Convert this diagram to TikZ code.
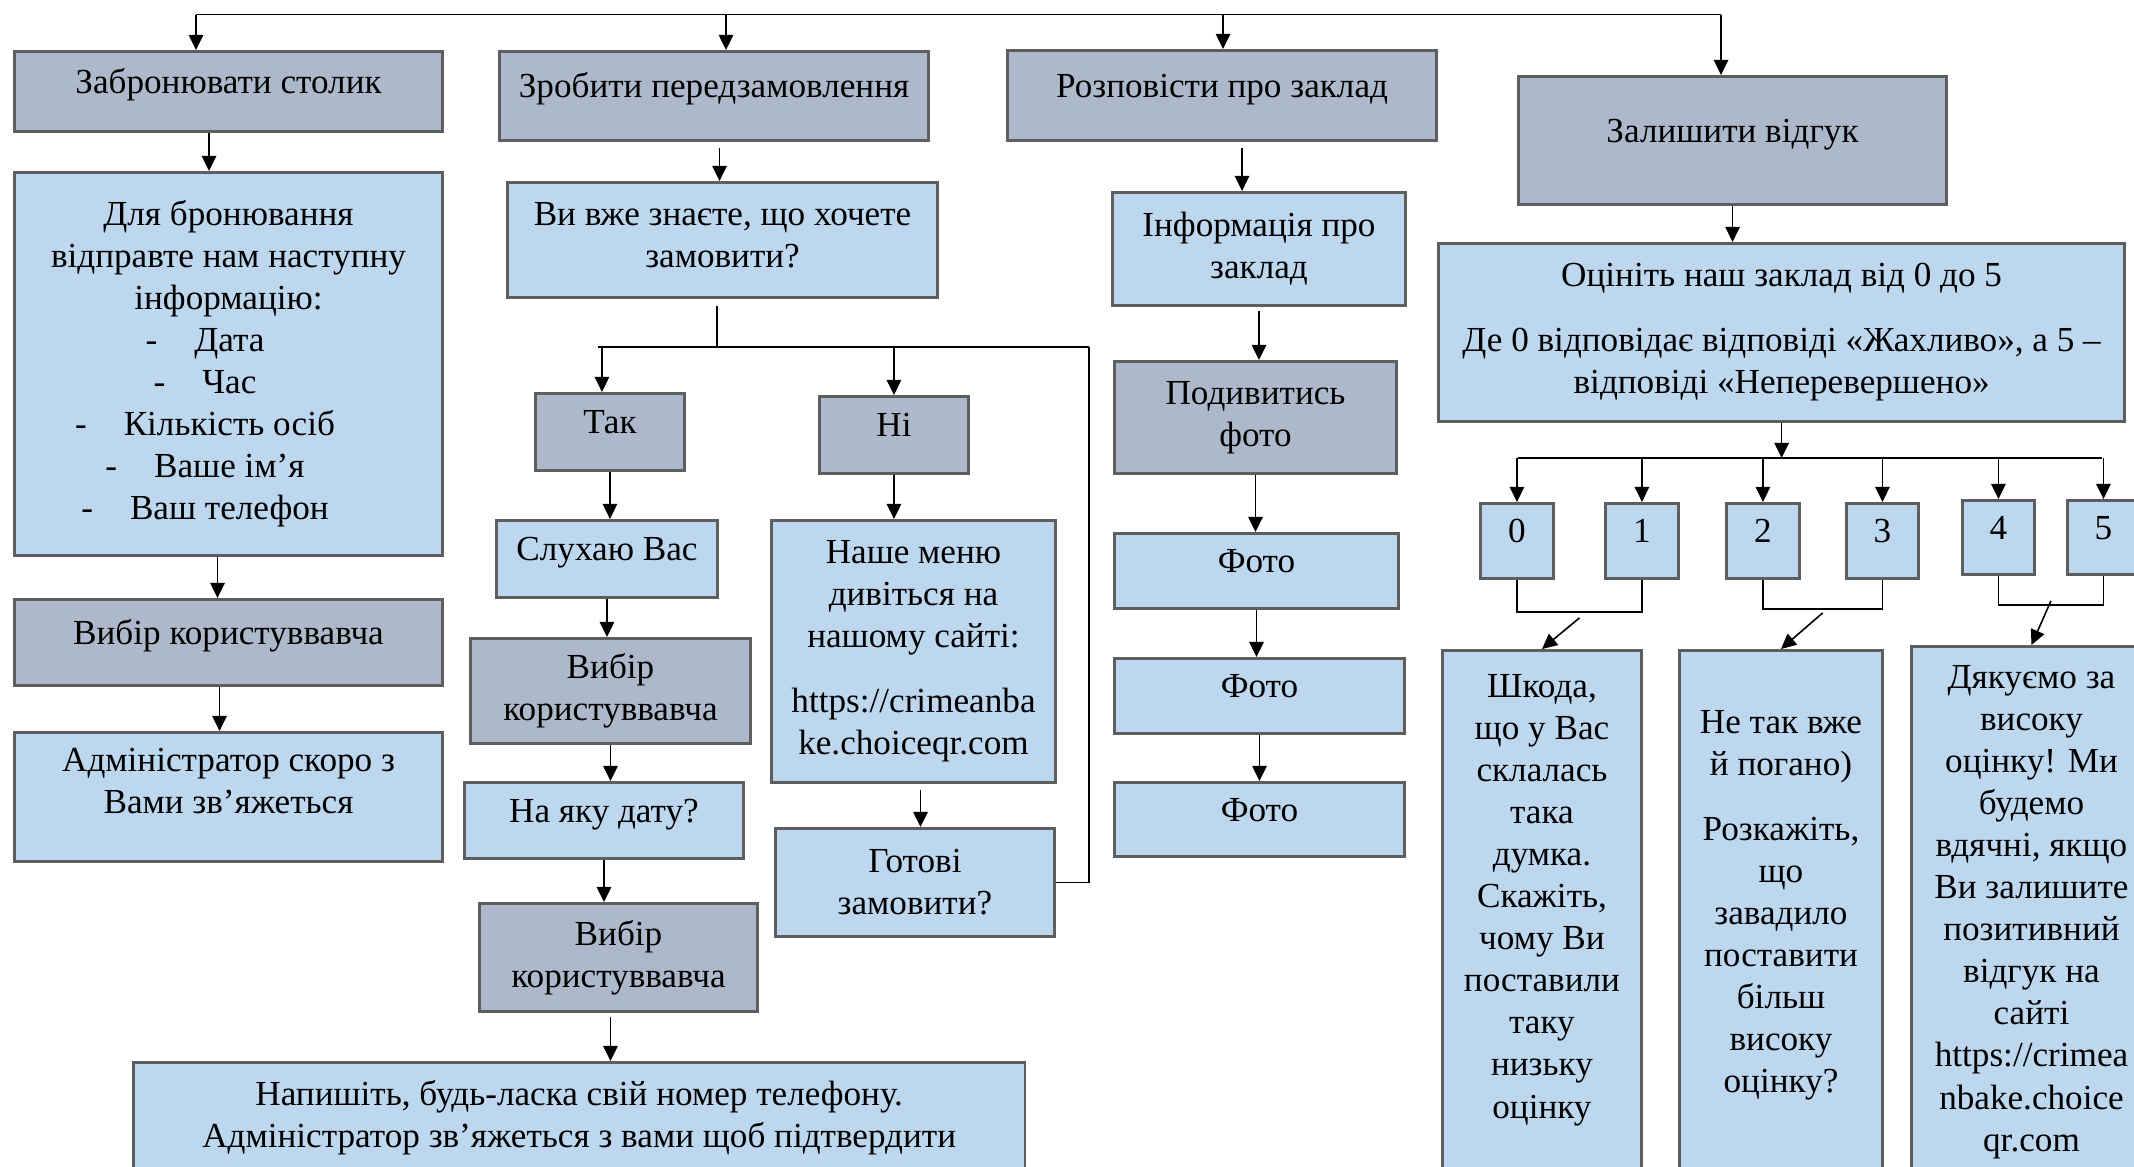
\documentclass[tikz,border=0pt]{standalone}
\usepackage{fontspec}
\setmainfont{Liberation Serif}
\usetikzlibrary{arrows.meta,positioning,calc}
\definecolor{boxdark}{HTML}{ADB9CA}
\definecolor{boxlight}{HTML}{BDD7EE}
\definecolor{boxline}{HTML}{5E5E5E}

\begin{document}
\begin{tikzpicture}[x=0.01cm,y=-0.01cm,
  font=\fontsize{10}{11.95}\selectfont,
  dk/.style={draw=boxline,line width=0.8pt,fill=boxdark,align=center,anchor=north west,inner sep=1pt},
  lt/.style={dk,fill=boxlight},
  one/.style={text height=7pt,text depth=6pt},
  txt/.style={align=center,inner sep=0pt},
  arr/.style={-{Triangle[length=4.3pt,width=4.1pt]},line width=0.45pt},
  ln/.style={line width=0.45pt}]
\useasboundingbox (0,0) rectangle (2134,1166);
\clip (0,0) rectangle (2134,1166);

\node[dk,one,minimum width=4.28cm,minimum height=0.80cm] (zabr) at (13,50) {Забронювати столик};
\node[dk,one,minimum width=4.29cm,minimum height=0.89cm] (zrob) at (498,50) {Зробити передзамовлення};
\node[dk,one,minimum width=4.29cm,minimum height=0.90cm] (rozp) at (1006,49) {Розповісти про заклад};
\node[dk,one,minimum width=4.28cm,minimum height=1.28cm] (zal) at (1517,75) {Залишити відгук};

\node[lt,minimum width=4.28cm,minimum height=3.83cm] (dlya) at (13,171) {Для бронювання\\відправте нам наступну\\інформацію:\\\hspace*{-0.47cm}-\hspace{0.37cm}Дата\\\hspace*{-0.47cm}-\hspace{0.37cm}Час\\\hspace*{-0.47cm}-\hspace{0.37cm}Кількість осіб\\\hspace*{-0.47cm}-\hspace{0.37cm}Ваше ім’я\\\hspace*{-0.47cm}-\hspace{0.37cm}Ваш телефон};
\node[dk,one,minimum width=4.28cm,minimum height=0.86cm] (vybir1) at (13,598) {Вибір користуввавча};
\node[lt,text depth=9pt,minimum width=4.28cm,minimum height=1.29cm] (admin) at (13,731) {Адміністратор скоро з\\Вами зв’яжеться};

\node[lt,text depth=3pt,minimum width=4.30cm,minimum height=1.15cm] (vyvzhe) at (506,181) {Ви вже знаєте, що хочете\\замовити?};
\node[dk,one,minimum width=1.49cm,minimum height=0.77cm] (tak) at (534,392) {Так};
\node[dk,one,minimum width=1.49cm,minimum height=0.77cm] (ni) at (818,395) {Ні};
\node[lt,one,minimum width=2.21cm,minimum height=0.77cm] (sluh) at (495,519) {Слухаю Вас};
\node[lt,minimum width=2.84cm,minimum height=2.62cm] (menu) at (770,519) {Наше меню\\дивіться на\\нашому сайті:\\[6.5pt]https://crimeanba\\ke.choiceqr.com};
\node[dk,minimum width=2.80cm,minimum height=1.05cm] (vybir2) at (469,637) {Вибір\\користуввавча};
\node[lt,one,minimum width=2.79cm,minimum height=0.76cm] (data) at (463,781) {На яку дату?};
\node[dk,minimum width=2.78cm,minimum height=1.08cm] (vybir3) at (478,902) {Вибір\\користуввавча};
\node[lt,minimum width=2.79cm,minimum height=1.08cm] (gotovi) at (774,827) {Готові\\замовити?};
\node[lt,minimum width=8.91cm,minimum height=1.10cm] (napys) at (132,1061) {Напишіть, будь-ласка свій номер телефону.\\Адміністратор зв’яжеться з вами щоб підтвердити};

\node[lt,minimum width=2.93cm,minimum height=1.13cm] (info) at (1111,191) {Інформація про\\заклад};
\node[dk,minimum width=2.82cm,minimum height=1.12cm] (pody) at (1113,360) {Подивитись\\фото};
\node[lt,one,minimum width=2.84cm,minimum height=0.75cm] (foto1) at (1113,532) {Фото};
\node[lt,one,minimum width=2.90cm,minimum height=0.75cm] (foto2) at (1113,657) {Фото};
\node[lt,one,minimum width=2.90cm,minimum height=0.74cm] (foto3) at (1113,781) {Фото};

\node[lt,minimum width=6.86cm,minimum height=1.78cm] (otsin) at (1437,242) {Оцініть наш заклад від 0 до 5\\[6.5pt]Де 0 відповідає відповіді «Жахливо», а 5 –\\відповіді «Неперевершено»};
\node[lt,one,minimum width=0.73cm,minimum height=0.75cm] (b0) at (1479,502) {0};
\node[lt,one,minimum width=0.73cm,minimum height=0.75cm] (b1) at (1604,502) {1};
\node[lt,one,minimum width=0.73cm,minimum height=0.75cm] (b2) at (1725,502) {2};
\node[lt,one,minimum width=0.72cm,minimum height=0.75cm] (b3) at (1845,502) {3};
\node[lt,one,minimum width=0.72cm,minimum height=0.74cm] (b4) at (1961,499) {4};
\node[lt,one,minimum width=0.72cm,minimum height=0.74cm] (b5) at (2066,499) {5};

\node[lt,minimum width=1.99cm,minimum height=5.6cm] (shk) at (1441,649) {};
\node[txt,below=0.25cm of shk.north] (shktx) {Шкода,\\що у Вас\\склалась\\така\\думка.\\Скажіть,\\чому Ви\\поставили\\таку\\низьку\\оцінку};
\node[lt,minimum width=2.03cm,minimum height=5.6cm] (netak) at (1678,649) {};
\node[txt,below=0.61cm of netak.north] (netaktx) {Не так вже\\й погано)\\[6.5pt]Розкажіть,\\що\\завадило\\поставити\\більш\\високу\\оцінку?};
\node[lt,minimum width=2.40cm,minimum height=5.6cm] (dyak) at (1910,645) {};
\node[txt,below=0.2cm of dyak.north] (dyaktx) {Дякуємо за\\високу\\оцінку! Ми\\будемо\\вдячні, якщо\\Ви залишите\\позитивний\\відгук на\\сайті\\https://crimea\\nbake.choice\\qr.com};

\coordinate (t1) at (196,14.5);
\coordinate (t2) at (726,14.5);
\coordinate (t3) at (1223,14.5);
\coordinate (t4) at (1721,14.5);
\draw[ln] (t1) -- (t4);
\draw[arr] (t1) -- (t1 |- zabr.north);
\draw[arr] (t2) -- (t2 |- zrob.north);
\draw[arr] (t3) -- (t3 |- rozp.north);
\draw[arr] (t4) -- (t4 |- zal.north);

\draw[arr] ([xshift=-0.195cm]zabr.south) -- ([xshift=-0.195cm]zabr.south |- dlya.north);
\draw[arr] ([xshift=-0.11cm]dlya.south) -- ([xshift=-0.11cm]dlya.south |- vybir1.north);
\draw[arr] ([xshift=-0.09cm]vybir1.south) -- ([xshift=-0.09cm]vybir1.south |- admin.north);

\draw[arr] ([xshift=0.055cm,yshift=-0.06cm]zrob.south) -- ([xshift=0.055cm]zrob.south |- vyvzhe.north);
\coordinate (busL) at (598,347);
\coordinate (busR) at (1089,347);
\draw[ln] ([xshift=-0.055cm,yshift=-0.07cm]vyvzhe.south) -- ([xshift=-0.055cm]vyvzhe.south |- busL);
\draw[ln] (busL) -- (busR);
\draw[arr] ([xshift=-0.08cm]tak.north |- busL) -- ([xshift=-0.08cm]tak.north);
\draw[arr] (ni.north |- busL) -- (ni.north);
\draw[ln] (gotovi.east) -| (busR);
\draw[arr] (tak.south) -- (tak.south |- sluh.north);
\draw[arr] (ni.south) -- (ni.south |- menu.north);
\draw[arr] (sluh.south) -- (sluh.south |- vybir2.north);
\draw[arr] (vybir2.south) -- (vybir2.south |- data.north);
\draw[arr] (data.south) -- (data.south |- vybir3.north);
\draw[arr] ([xshift=-0.08cm,yshift=-0.04cm]vybir3.south) -- ([xshift=-0.08cm]vybir3.south |- napys.north);
\draw[arr] ([xshift=0.07cm,yshift=-0.06cm]menu.south) -- ([xshift=0.07cm]menu.south |- gotovi.north);

\draw[arr] ([xshift=0.2cm,yshift=-0.06cm]rozp.south) -- ([xshift=0.2cm]rozp.south |- info.north);
\draw[arr] ([yshift=-0.04cm]info.south) -- (info.south |- pody.north);
\draw[arr] (pody.south) -- (pody.south |- foto1.north);
\draw[arr] (foto1.south) -- (foto1.south |- foto2.north);
\draw[arr] (foto2.south) -- (foto2.south |- foto3.north);

\draw[arr] (zal.south) -- (zal.south |- otsin.north);
\coordinate (r1) at (1518,458);
\coordinate (r2) at (2102,458);
\draw[arr] (otsin.south) -- (otsin.south |- r1);
\draw[ln] (r1) -- (r2);
\foreach \b in {b0,b1,b2,b3,b4,b5}
  \draw[arr] (\b.north |- r1) -- (\b.north);

\draw[ln] (b0.south) -- ++(0,32) -| (b1.south);
\draw[ln] (b2.south) -- ++(0,29) -| (b3.south);
\draw[ln] (b4.south) -- ++(0,29) -| (b5.south);
\coordinate (m01) at ($(b0.south)!0.5!(b1.south)+(0,38)$);
\coordinate (m23) at ($(b2.south)!0.5!(b3.south)+(0,33)$);
\coordinate (m45) at ($(b4.south)!0.5!(b5.south)+(0,25)$);
\draw[arr] (m01) -- (shk.north);
\draw[arr] (m23) -- (netak.north);
\draw[arr] (m45) -- (dyak.north);
\end{tikzpicture}
\end{document}
